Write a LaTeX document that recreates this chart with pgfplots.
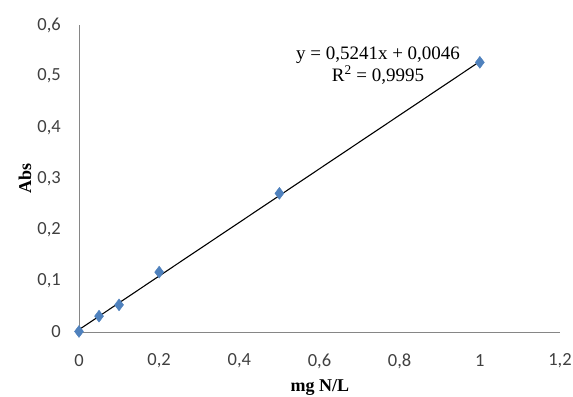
\documentclass[border=0pt]{standalone}
\usepackage{pgfplots}
\pgfplotsset{compat=1.18}
\usepackage{fontspec}
\setmainfont{Liberation Serif}
\newfontfamily\tickfont{Carlito}
\definecolor{mblue}{HTML}{4F81BD}
\definecolor{axgray}{HTML}{868686}
\begin{document}
\begin{tikzpicture}
\path[use as bounding box] (-79bp,-65bp) rectangle (494bp,332bp);
\begin{axis}[
  at={(0,0)}, anchor=origin,
  scale only axis, width=481bp, height=307bp,
  xmin=0, xmax=1.2, ymin=0, ymax=0.6,
  xtick={0,0.2,...,1.2}, ytick={0,0.1,...,0.6},
  axis x line*=bottom, axis y line*=left,
  axis line style={axgray, line width=0.8pt, -},
  major tick length=0pt,
  /pgf/number format/use comma,
  /pgf/number format/assume math mode=true,
  ticklabel style={font=\tickfont\fontsize{18.5bp}{20bp}\selectfont, text=black!75, inner sep=0pt},
  xticklabel style={anchor=center, yshift=-29bp},
  yticklabel style={anchor=east, xshift=-18bp},
  xlabel={\textbf{mg N/L}}, ylabel={\textbf{Abs}},
  label style={font=\fontsize{18bp}{20bp}\selectfont, inner sep=0pt},
  xlabel style={at={(axis description cs:0.501,-0.18)}, anchor=center},
  ylabel style={at={(axis description cs:-0.1123,0.5)}, anchor=center},
  clip=false,
]
\addplot[black, line width=1.1pt, forget plot] coordinates {(0,0.0046) (1,0.5287)};
\addplot[only marks, mark=diamond*, mark size=6bp, mark options={fill=mblue, draw=mblue}] coordinates {
(0,0.001) (0.05,0.031) (0.1,0.053) (0.2,0.117) (0.5,0.271) (1,0.527)};
\node[font=\fontsize{19bp}{22bp}\selectfont, align=center, inner sep=0pt] at (axis cs:0.746,0.520) {y = 0,5241x + 0,0046\\R\textsuperscript{2} = 0,9995};
\end{axis}
\end{tikzpicture}
\end{document}
